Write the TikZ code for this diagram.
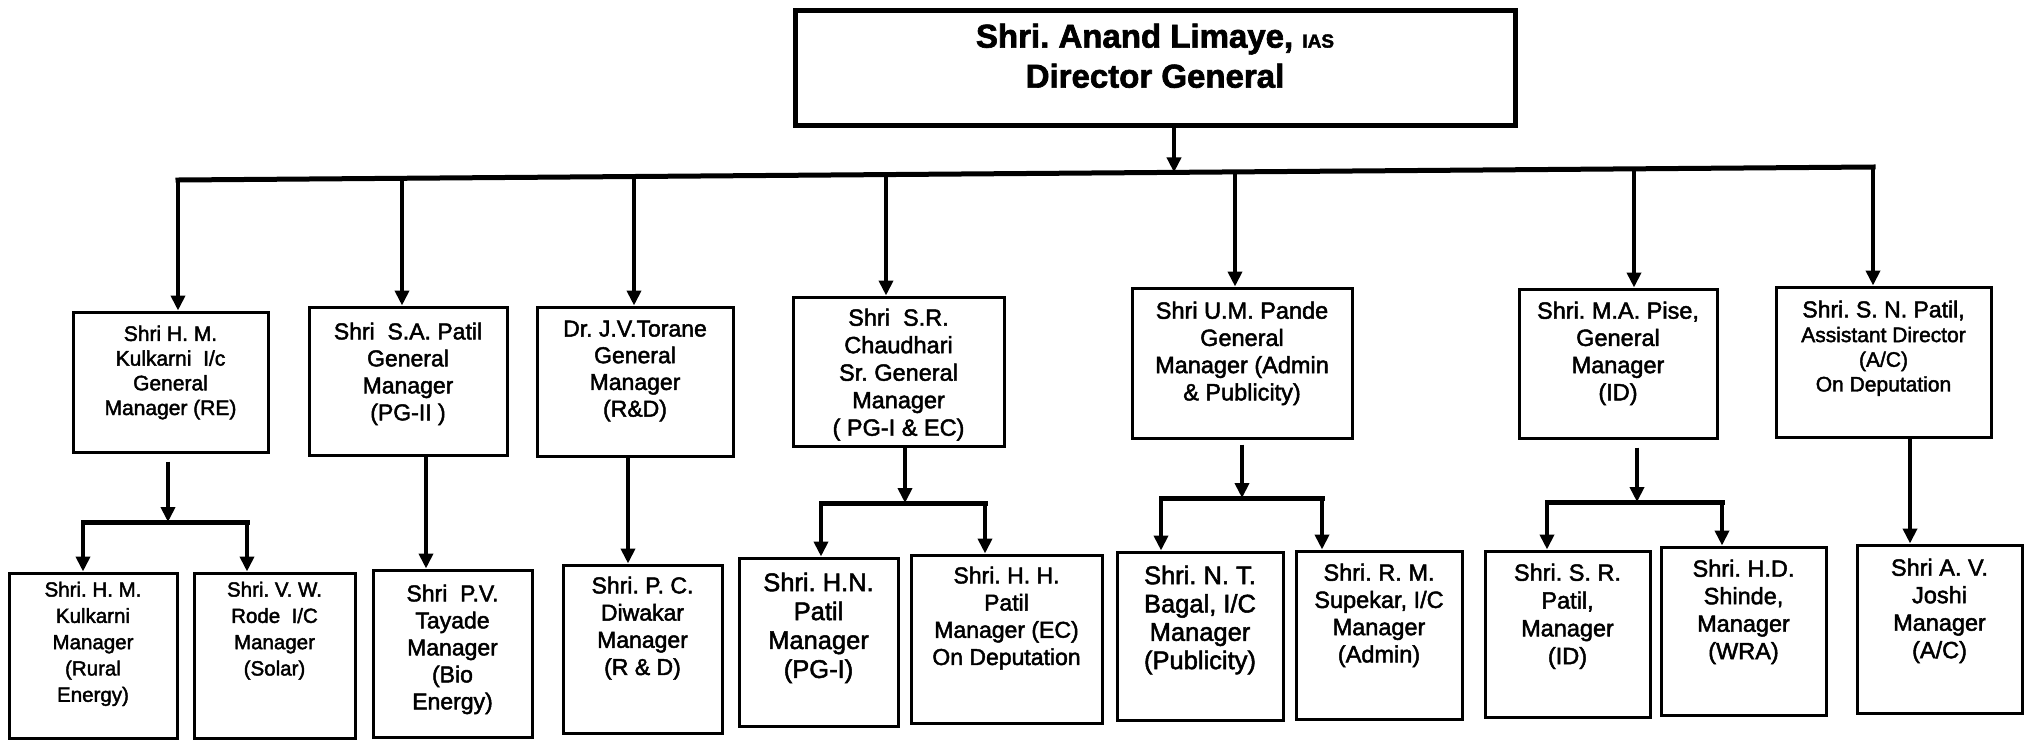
\documentclass[tikz,border=0pt]{standalone}
\usepackage{fontspec}
\setmainfont{Liberation Sans}
\newfontfamily\bodyf[FakeBold=2]{Liberation Sans}
\usetikzlibrary{arrows.meta,fit,calc}
\newcommand\fsz[2]{\bodyf\fontsize{#1}{#2}\selectfont}
\tikzset{
  boxs/.style={draw, line width=3pt, inner sep=0pt},
  topbox/.style={draw, line width=5pt, inner sep=0pt},
  txt/.style={inner sep=0pt, align=center, anchor=north},
  arr/.style={line width=4.2pt, -{Triangle[width=14pt,length=15pt]}},
  busln/.style={line width=5pt, line cap=rect},
}
\begin{document}
\frenchspacing
\begin{tikzpicture}[x=1pt,y=-1pt]
\fill[white] (0,0) rectangle (2025,740);
\useasboundingbox (0,0) rectangle (2025,740);

% ---------- top box
\node[topbox, fit={(795,10) (1515,125)}] (top) {};
\node[txt, font=\fsz{33}{40}\bfseries] (topt) at ([yshift=-16pt]top.north)
  {Shri. Anand Limaye, {\fsz{19}{24}\bfseries IAS}\\Director General};

% ---------- level 1
\node[boxs, fit={(73,312) (268,452)}] (b1) {};
\node[txt, font=\fsz{21}{24.7}] (b1t) at ([yshift=-15pt]b1.north)
  {Shri H. M.\\Kulkarni\ \ I/c\\General\\Manager (RE)};
\node[boxs, fit={(309,307) (507,455)}] (b2) {};
\node[txt, font=\fsz{23}{27}] (b2t) at ([yshift=-17pt]b2.north)
  {Shri\ \ S.A. Patil\\General\\Manager\\(PG-II\ )};
\node[boxs, fit={(537,307) (733,456)}] (b3) {};
\node[txt, font=\fsz{23}{26.7}] (b3t) at ([yshift=-15pt]b3.north)
  {Dr. J.V.Torane\\General\\Manager\\(R\&D)};
\node[boxs, fit={(793,297) (1004,446)}] (b4) {};
\node[txt, font=\fsz{23.5}{27.5}] (b4t) at ([yshift=-13pt]b4.north)
  {Shri\ \ S.R.\\Chaudhari\\Sr. General\\Manager\\(\ PG-I \& EC)};
\node[boxs, fit={(1132,288) (1352,438)}] (b5) {};
\node[txt, font=\fsz{23.5}{27.2}] (b5t) at ([yshift=-15pt]b5.north)
  {Shri U.M. Pande\\General\\Manager (Admin\\\& Publicity)};
\node[boxs, fit={(1519,289) (1717,438)}] (b6) {};
\node[txt, font=\fsz{23.5}{27.2}] (b6t) at ([yshift=-14pt]b6.north)
  {Shri. M.A. Pise,\\General\\Manager\\(ID)};
\node[boxs, fit={(1776,287) (1991,437)}] (b7) {};
\node[txt, font=\fsz{21}{24.7}] (b7t) at ([yshift=-15pt]b7.north)
  {{\fsz{23}{24.7}Shri. S. N. Patil,}\\Assistant Director\\(A/C)\\On Deputation};

% ---------- level 2
\node[boxs, fit={(9,573) (177,738)}] (c1) {};
\node[txt, font=\fsz{20.5}{26.3}] (c1t) at ([yshift=-10pt]c1.north)
  {Shri. H. M.\\Kulkarni\\Manager\\(Rural\\Energy)};
\node[boxs, fit={(194,573) (355,738)}] (c2) {};
\node[txt, font=\fsz{20.5}{26.3}] (c2t) at ([yshift=-10pt]c2.north)
  {Shri. V. W.\\Rode\ \ I/C\\Manager\\(Solar)};
\node[boxs, fit={(373,570) (532,737)}] (c3) {};
\node[txt, font=\fsz{23}{27}] (c3t) at ([yshift=-16pt]c3.north)
  {Shri\ \ P.V.\\Tayade\\Manager\\(Bio\\Energy)};
\node[boxs, fit={(563,565) (722,733)}] (c4) {};
\node[txt, font=\fsz{23}{27.2}] (c4t) at ([yshift=-13pt]c4.north)
  {Shri. P. C.\\Diwakar\\Manager\\(R \& D)};
\node[boxs, fit={(739,558) (898,726)}] (c5) {};
\node[txt, font=\fsz{25.5}{28.9}] (c5t) at ([yshift=-16pt]c5.north)
  {Shri. H.N.\\Patil\\Manager\\(PG-I)};
\node[boxs, fit={(911,555) (1102,723)}] (c6) {};
\node[txt, font=\fsz{23}{27.2}] (c6t) at ([yshift=-13pt]c6.north)
  {Shri. H. H.\\Patil\\Manager (EC)\\On Deputation};
\node[boxs, fit={(1117,552) (1283,720)}] (c7) {};
\node[txt, font=\fsz{25.5}{28.3}] (c7t) at ([yshift=-15pt]c7.north)
  {Shri. N. T.\\Bagal, I/C\\Manager\\(Publicity)};
\node[boxs, fit={(1296,551) (1462,719)}] (c8) {};
\node[txt, font=\fsz{23.5}{27.2}] (c8t) at ([yshift=-14pt]c8.north)
  {Shri. R. M.\\Supekar, I/C\\Manager\\(Admin)};
\node[boxs, fit={(1485,551) (1650,717)}] (c9) {};
\node[txt, font=\fsz{23.5}{27.8}] (c9t) at ([yshift=-14pt]c9.north)
  {Shri. S. R.\\Patil,\\Manager\\(ID)};
\node[boxs, fit={(1661,547) (1826,715)}] (c10) {};
\node[txt, font=\fsz{23.5}{27.5}] (c10t) at ([yshift=-14pt]c10.north)
  {Shri. H.D.\\Shinde,\\Manager\\(WRA)};
\node[boxs, fit={(1857,545) (2022,713)}] (c11) {};
\node[txt, font=\fsz{23.5}{27.5}] (c11t) at ([yshift=-15pt]c11.north)
  {Shri A. V.\\Joshi\\Manager\\(A/C)};

% ---------- main bus (slightly tilted as in the scan)
\coordinate (j1) at (178,180);
\coordinate (j2) at (402,178.3);
\coordinate (j3) at (634,176.5);
\coordinate (j4) at (886,174.6);
\coordinate (jt) at (1174,172.4);
\coordinate (j5) at (1235,171.9);
\coordinate (j6) at (1634,168.8);
\coordinate (j7) at (1873,167);

\draw[arr] (top.south -| jt) -- (jt);
\draw[busln] (j1) -- (j7);
\draw[arr] (j1) -- (j1 |- b1.north);
\draw[arr] (j2) -- (j2 |- b2.north);
\draw[arr] (j3) -- (j3 |- b3.north);
\draw[arr] (j4) -- (j4 |- b4.north);
\draw[arr] (j5) -- (j5 |- b5.north);
\draw[arr] (j6) -- (j6 |- b6.north);
\draw[arr] (j7) -- (j7 |- b7.north);

% ---------- B1 -> C1, C2
\coordinate (s1) at (168,522);
\coordinate (s1l) at (83,522);
\coordinate (s1r) at (247,522);
\draw[arr] ([yshift=-8pt]b1.south -| s1) -- (s1);
\draw[busln] (s1l) -- (s1r);
\draw[arr] (s1l) -- (s1l |- c1.north);
\draw[arr] (s1r) -- (s1r |- c2.north);

% ---------- B2 -> C3, B3 -> C4
\coordinate (s2) at (426,455);
\draw[arr] (b2.south -| s2) -- (s2 |- c3.north);
\coordinate (s3) at (628,456);
\draw[arr] (b3.south -| s3) -- (s3 |- c4.north);

% ---------- B4 -> C5, C6
\coordinate (s4) at (905,503);
\coordinate (s4l) at (821,503);
\coordinate (s4r) at (985,503);
\draw[arr] (b4.south -| s4) -- (s4);
\draw[busln] (s4l) -- (s4r);
\draw[arr] (s4l) -- (s4l |- c5.north);
\draw[arr] (s4r) -- (s4r |- c6.north);

% ---------- B5 -> C7, C8
\coordinate (s5) at (1242,498);
\coordinate (s5l) at (1161,498);
\coordinate (s5r) at (1322,498);
\draw[arr] ([yshift=-5pt]b5.south -| s5) -- (s5);
\draw[busln] (s5l) -- (s5r);
\draw[arr] (s5l) -- (s5l |- c7.north);
\draw[arr] (s5r) -- (s5r |- c8.north);

% ---------- B6 -> C9, C10
\coordinate (s6) at (1637,502);
\coordinate (s6l) at (1547,502);
\coordinate (s6r) at (1722,502);
\draw[arr] ([yshift=-8pt]b6.south -| s6) -- (s6);
\draw[busln] (s6l) -- (s6r);
\draw[arr] (s6l) -- (s6l |- c9.north);
\draw[arr] (s6r) -- (s6r |- c10.north);

% ---------- B7 -> C11
\coordinate (s7) at (1910,437);
\draw[arr] (b7.south -| s7) -- (s7 |- c11.north);
\end{tikzpicture}
\end{document}
